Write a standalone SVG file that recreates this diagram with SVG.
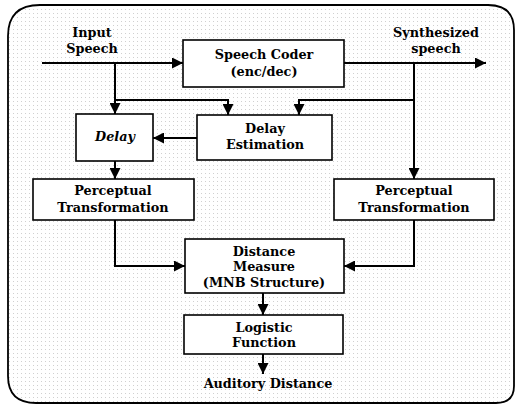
<svg xmlns="http://www.w3.org/2000/svg" width="516" height="405" viewBox="0 0 516 405">
<defs>
<pattern id="dots" width="4" height="4" patternUnits="userSpaceOnUse">
<rect x="1" y="1" width="1" height="1" fill="#d0d0d0"/>
</pattern>
<marker id="ah" viewBox="0 0 10 10" refX="10" refY="5" markerWidth="5.5" markerHeight="5.5" orient="auto" markerUnits="strokeWidth">
<path d="M0,0 L10,5 L0,10 Z" fill="#000"/>
</marker>
</defs>
<style>
.box{fill:#fff;stroke:#000;stroke-width:1.6}
.t{font-family:"DejaVu Serif","Liberation Serif",serif;font-weight:bold;font-size:12.8px;text-anchor:middle;fill:#000}
.ti{font-style:italic}
.c{fill:none;stroke:#000;stroke-width:2}
.ca{fill:none;stroke:#000;stroke-width:2;marker-end:url(#ah)}
</style>
<rect width="516" height="405" fill="#fff"/>
<path d="M8,36 Q8,5 40,5 L488,5 Q514,5 514,30 L514,386 Q514,403 496,403 L36,403 Q8,403 8,376 Z" fill="url(#dots)" stroke="#000" stroke-width="1.8"/>
<g id="connectors">
<path class="ca" d="M42,63 L183,63"/>
<path class="ca" d="M344,63 L486,63"/>
<path class="ca" d="M115,63 L115,114"/>
<path class="ca" d="M115,100 L228,100 L228,115"/>
<path class="c" d="M414,63 L414,100"/>
<path class="ca" d="M414,100 L299,100 L299,115"/>
<path class="ca" d="M414,100 L414,179"/>
<path class="ca" d="M197,138 L153,138"/>
<path class="ca" d="M115,161 L115,179"/>
<path class="ca" d="M115,220 L115,266 L185,266"/>
<path class="ca" d="M414,220 L414,266 L344,266"/>
<path class="ca" d="M263,293 L263,315"/>
<path class="ca" d="M263,354 L263,374"/>
</g>
<g id="input-label"><text class="t" x="92" y="37">Input</text><text class="t" x="92" y="53">Speech</text></g>
<g id="output-label"><text class="t" x="436" y="37">Synthesized</text><text class="t" x="436" y="53">speech</text></g>
<g id="speech-coder"><rect class="box" x="183" y="40" width="161" height="47"/><text class="t" x="264" y="59">Speech Coder</text><text class="t" x="264" y="76">(enc/dec)</text></g>
<g id="delay"><rect class="box" x="76" y="114" width="77" height="47"/><text class="t ti" x="115" y="141">Delay</text></g>
<g id="delay-estimation"><rect class="box" x="197" y="115" width="135" height="45"/><text class="t" x="265" y="133">Delay</text><text class="t" x="265" y="149">Estimation</text></g>
<g id="perceptual-left"><rect class="box" x="33" y="179" width="161" height="41"/><text class="t" x="113" y="195">Perceptual</text><text class="t" x="113" y="212">Transformation</text></g>
<g id="perceptual-right"><rect class="box" x="334" y="179" width="160" height="41"/><text class="t" x="414" y="195">Perceptual</text><text class="t" x="414" y="212">Transformation</text></g>
<g id="distance-measure"><rect class="box" x="185" y="239" width="159" height="54"/><text class="t" x="264" y="256">Distance</text><text class="t" x="264" y="271">Measure</text><text class="t" x="264" y="287">(MNB Structure)</text></g>
<g id="logistic"><rect class="box" x="184" y="315" width="159" height="39"/><text class="t" x="264" y="332">Logistic</text><text class="t" x="264" y="347">Function</text></g>
<g id="auditory-label"><text class="t" x="268" y="388">Auditory Distance</text></g>
</svg>
